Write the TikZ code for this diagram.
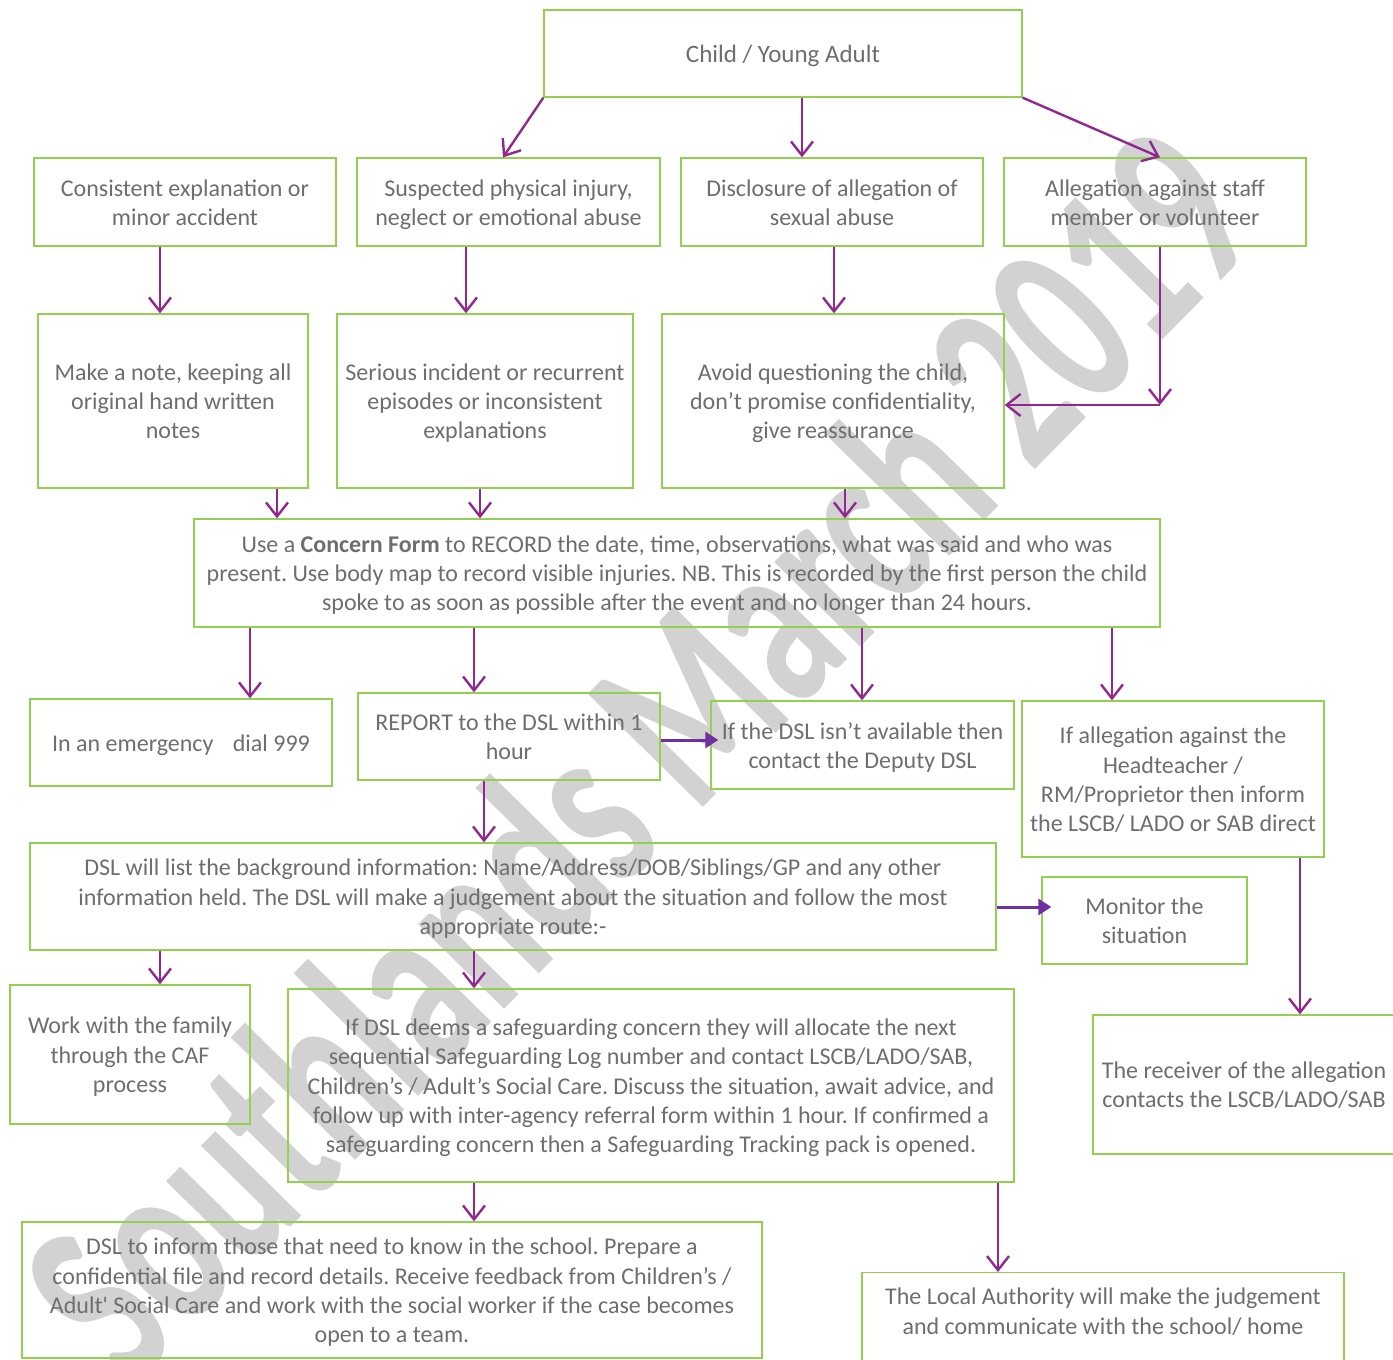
\documentclass[tikz,border=0pt]{standalone}
\usepackage{fontspec}
\setmainfont{Carlito}
\usetikzlibrary{arrows.meta}
\definecolor{SLgreen}{RGB}{146,208,80}
\definecolor{SLpurple}{RGB}{146,39,143}
\definecolor{SLviolet}{RGB}{112,48,160}
\definecolor{SLtext}{RGB}{110,110,110}
\definecolor{SLmark}{RGB}{210,210,210}
\newcommand{\wstrut}{\rule[-6pt]{0pt}{29.3pt}}

\begin{document}
\begin{tikzpicture}[x=1pt,y=-1pt,
    box/.style={draw=SLgreen,line width=1.3pt,text=SLtext,align=center,inner xsep=3pt,inner ysep=0pt,
      font=\fontsize{24}{29.3}\selectfont,
      execute at begin node={\spaceskip=\fontdimen2\font\xspaceskip=\fontdimen2\font\frenchspacing\wstrut},
      execute at end node=\wstrut},
    arr/.style={SLpurple,line width=2.4pt,-{Straight Barb[length=14pt,width=22pt]}},
    fat/.style={SLviolet,line width=3pt,-{Triangle[length=13pt,width=16pt]}}]
  \useasboundingbox (0,0) rectangle (1393,1360);
  \clip (0,0) rectangle (1393,1360);
  \fill[white] (0,0) rectangle (1393,1360);
  \node[SLmark,rotate=45.5,yscale=1.5,font=\fontsize{166}{166}\bfseries] (mark) at (636,752) {Southlands March 2019};

  \node[box,text width=472pt,minimum height=87pt,font=\fontsize{25}{29.3}\selectfont] (T) at (783,53.5) {Child / Young Adult};
  \node[box,text width=296pt,minimum height=88pt] (A) at (185,202) {Consistent explanation or\\minor accident};
  \node[box,text width=297pt,minimum height=88pt] (B) at (508.5,202) {Suspected physical injury,\\neglect or emotional abuse};
  \node[box,text width=296pt,minimum height=88pt] (C) at (832,202) {Disclosure of allegation of\\sexual abuse};
  \node[box,text width=296pt,minimum height=88pt] (D) at (1155,202) {Allegation against staff\\member or volunteer};

  \node[box,text width=264pt,minimum height=174pt] (E) at (173,401) {Make a note, keeping all\\original hand written\\notes};
  \node[box,text width=290pt,minimum height=174pt] (F) at (485,401) {Serious incident or recurrent\\episodes or inconsistent\\explanations};
  \node[box,text width=336pt,minimum height=174pt] (G) at (833,401) {Avoid questioning the child,\\don’t promise confidentiality,\\give reassurance};

  \node[box,text width=960pt,minimum height=108pt] (H) at (677,573) {Use a \textbf{Concern Form} to RECORD the date, time, observations, what was said and who was\\present. Use body map to record visible injuries. NB. This is recorded by the first person the child\\spoke to as soon as possible after the event and no longer than 24 hours.};

  \node[box,text width=296pt,minimum height=87pt] (I) at (181,742.5) {In an emergency \hspace{14pt}dial 999};
  \node[box,text width=296pt,minimum height=87pt] (J) at (509,736.5) {REPORT to the DSL within 1\\hour};
  \node[box,text width=297pt,minimum height=88pt] (K) at (862.5,745) {If the DSL isn’t available then\\contact the Deputy DSL};
  \node[box,text width=296pt,minimum height=156pt] (L) at (1173,779) {If allegation against the\\Headteacher /\\RM/Proprietor then inform\\the LSCB/ LADO or SAB direct};

  \node[box,text width=960pt,minimum height=107pt] (M) at (513,896.5) {DSL will list the background information: Name/Address/DOB/Siblings/GP and any other\\information held. The DSL will make a judgement about the situation and follow the most\\appropriate route:-};
  \node[box,text width=199pt,minimum height=87pt] (N) at (1144.5,920.5) {Monitor the\\situation};

  \node[box,text width=234pt,minimum height=139pt] (O) at (130,1054.5) {Work with the family\\through the CAF\\process};
  \node[box,text width=720pt,minimum height=193pt] (P) at (651,1085.5) {If DSL deems a safeguarding concern they will allocate the next\\sequential Safeguarding Log number and contact LSCB/LADO/SAB,\\Children’s / Adult’s Social Care. Discuss the situation, await advice, and\\follow up with inter-agency referral form within 1 hour. If confirmed a\\safeguarding concern then a Safeguarding Tracking pack is opened.};
  \node[box,text width=296pt,minimum height=139pt] (Q) at (1244,1084.5) {The receiver of the allegation\\contacts the LSCB/LADO/SAB};

  \node[box,text width=734pt,minimum height=136pt] (R) at (392,1290) {DSL to inform those that need to know in the school. Prepare a\\confidential file and record details. Receive feedback from Children’s /\\Adult\textquotesingle{} Social Care and work with the social worker if the case becomes\\open to a team.};
  \node[box,text width=476pt,inner ysep=9pt,text depth=80pt,anchor=north] (S) at (1103,1272) {The Local Authority will make the judgement\\and communicate with the school/ home};

  \draw[arr] (T.south west) -- (B.north -| 503,0);
  \draw[arr] (T.south east) -- (D.north -| 1160,0);
  \foreach \a/\b/\x in {T/C/802,A/E/160,B/F/466,C/G/834,E/H/277,F/H/480,G/H/845,
      H/I/250,H/J/474,H/K/862,H/L/1112,J/M/484,M/O/160,M/P/474,L/Q/1300,P/R/474,P/S/998}
    \draw[arr] (\a.south -| \x,0) -- (\b.north -| \x,0);
  \coordinate (turn) at (1160,405);
  \draw[arr] (D.south -| turn) -- (turn);
  \draw[arr] (turn) -- (G.east |- turn);
  \draw[fat,shorten >=-8pt] (J.east |- 0,740) -- (K.west |- 0,740);
  \draw[fat,shorten >=-10pt] (M.east |- 0,907) -- (N.west |- 0,907);
\end{tikzpicture}
\end{document}
